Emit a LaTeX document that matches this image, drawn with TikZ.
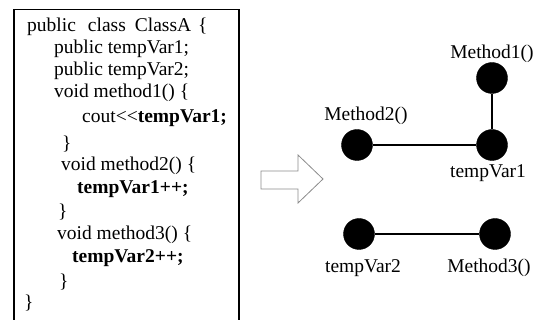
\documentclass[tikz,border=0pt]{standalone}
\usepackage{fontspec}
\setmainfont{Liberation Serif}
\begin{document}
\begin{tikzpicture}[x=1pt,y=-1pt,
  code/.style={anchor=base west,inner sep=0pt,font=\fontsize{19.5}{23}\selectfont},
  lbl/.style={anchor=base,inner sep=0pt,font=\fontsize{19.5}{23}\selectfont},
  dot/.style={circle,fill=black,draw=black,minimum size=31pt,inner sep=0pt},
  edge/.style={line width=1.3pt,black},
  frame/.style={line width=1.3pt,black},
  hollowarrow/.style={draw=black!45,line width=0.8pt,fill=white,line join=miter}]
\useasboundingbox (0,0) rectangle (541,320);
% code box (bottom edge lies outside the picture)
\draw[frame] (14,320) -- (14,9.5) -- (239,9.5) -- (239,320);
\node[code] (l1) at (27,32) {public\hspace{12pt}class\hspace{9pt}ClassA\hspace{7pt}\{};
\node[code] (l2) at (54,54) {public tempVar1;};
\node[code] (l3) at (54,76) {public tempVar2;};
\node[code] (l4) at (54,98) {void method1() \{};
\node[code] (l5) at (82,123) {cout<\kern0pt<\kern0pt\textbf{tempVar1;}};
\node[code] (l6) at (62,150) {\}};
\node[code] (l7) at (61,171) {void method2() \{};
\node[code] (l8) at (77,194) {\textbf{tempVar1++;}};
\node[code] (l9) at (58,218) {\}};
\node[code] (l10) at (57,240) {void method3() \{};
\node[code] (l11) at (72,263) {\textbf{tempVar2++;}};
\node[code] (l12) at (59,288) {\}};
\node[code] (l13) at (24,309) {\}};
% hollow block arrow
\draw[hollowarrow] (261,171) -- (298,171) -- (298,155) -- (323,179) -- (298,203) -- (298,189) -- (261,189) -- cycle;
% graph
\node[dot] (m1) at (492,78) {};
\node[dot] (tv1) at (492,145) {};
\node[dot] (m2) at (357,145) {};
\node[dot] (tv2) at (359,234) {};
\node[dot] (m3) at (495,234) {};
\draw[edge] (m1) -- (tv1);
\draw[edge] (m2) -- (tv1);
\draw[edge] (tv2) -- (m3);
\node[lbl] (lm1) at (492,59) {Method1()};
\node[lbl] (lm2) at (366,121) {Method2()};
\node[lbl] (ltv1) at (488,178) {tempVar1};
\node[lbl] (ltv2) at (363,273) {tempVar2};
\node[lbl] (lm3) at (489,273) {Method3()};
\end{tikzpicture}
\end{document}
